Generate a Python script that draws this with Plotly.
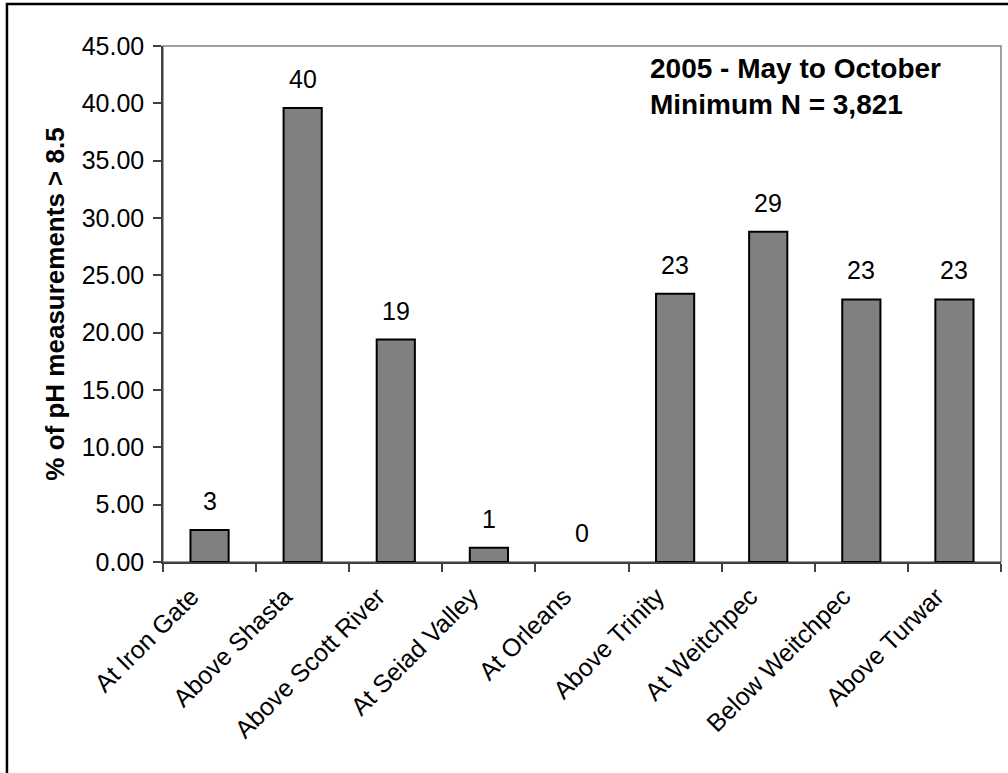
import plotly.graph_objects as go

sites = ["At Iron Gate", "Above Shasta", "Above Scott River", "At Seiad Valley",
         "At Orleans", "Above Trinity", "At Weitchpec", "Below Weitchpec", "Above Turwar"]
pct_above_85 = [2.8, 39.6, 19.4, 1.25, 0.0, 23.4, 28.8, 22.9, 22.9]
y_ticks = [0, 5, 10, 15, 20, 25, 30, 35, 40, 45]

FONT = "Arial, Liberation Sans, sans-serif"

fig = go.Figure()
fig.add_trace(go.Bar(
    x=sites, y=pct_above_85,
    marker=dict(color="#808080",
                line=dict(color="#000000", width=[2 if v > 0 else 0 for v in pct_above_85])),
    hoverinfo="skip",
))

for s, v in zip(sites, pct_above_85):
    fig.add_annotation(x=s, y=v, text=f"{v:.0f}", showarrow=False,
                       yanchor="middle", yshift=29,
                       font=dict(family=FONT, size=25, color="#000000"))

fig.add_annotation(xref="paper", yref="paper", x=0.579, y=0.99,
                   xanchor="left", yanchor="top", align="left", showarrow=False,
                   text="<b>2005 - May to October</b><br><b>Minimum N = 3,821</b>",
                   font=dict(family=FONT, size=28, color="#000000"))

# plot area border (gray)
fig.add_shape(type="rect", xref="paper", yref="paper", x0=0, x1=1, y0=0, y1=1,
              line=dict(color="#808080", width=1.5), layer="below")
# outer chart border
fig.add_shape(type="rect", xref="paper", yref="paper", x0=-0.1862, x1=1.05,
              y0=-0.45, y1=1.0814, line=dict(color="#000000", width=2.5), layer="above")

fig.update_layout(
    width=1008, height=773,
    margin=dict(l=163, r=7, t=46, b=211),
    paper_bgcolor="white", plot_bgcolor="white",
    showlegend=False,
    bargap=0.59,
    font=dict(family=FONT, size=25, color="#000000"),
)
fig.update_xaxes(
    type="category", tickangle=-45, showgrid=False,
    showline=True, linecolor="#404040", linewidth=2,
    ticks="outside", tickson="boundaries", ticklen=8, tickcolor="#404040", tickwidth=1.5,
    ticklabelshift=-18, ticklabelstandoff=8,
    tickfont=dict(family=FONT, size=25, color="#000000"),
)
fig.update_yaxes(
    range=[0, 45], tickvals=y_ticks, tickformat=".2f", showgrid=False, zeroline=False,
    showline=True, linecolor="#404040", linewidth=1.5,
    ticks="outside", ticklen=8, tickcolor="#404040", tickwidth=1.5,
    ticklabelstandoff=4,
    tickfont=dict(family=FONT, size=25, color="#000000"),
    title=dict(text="<b>% of pH measurements > 8.5</b>", standoff=10,
               font=dict(family=FONT, size=26, color="#000000")),
)

fig.write_html("out.html", config={"displayModeBar": False},
               post_script="document.body.style.margin='0';document.body.style.overflow='hidden';")
